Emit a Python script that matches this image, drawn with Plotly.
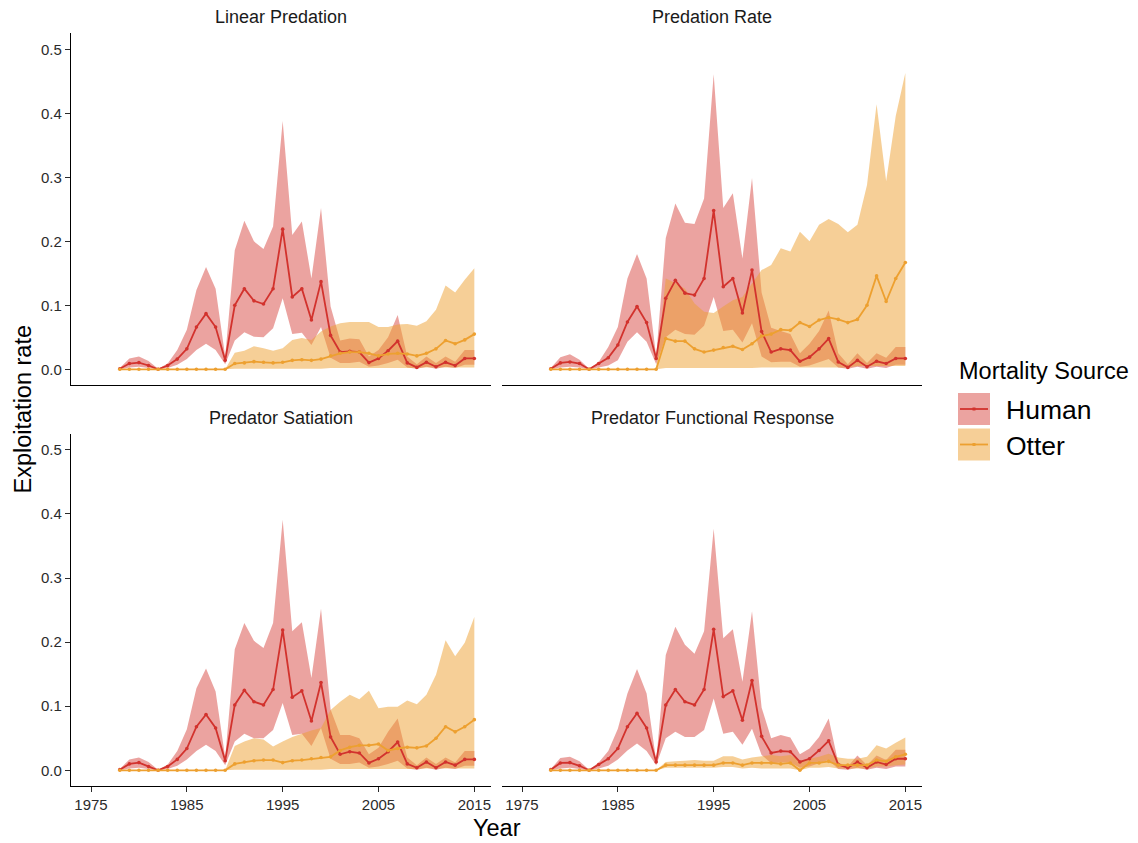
import plotly.graph_objects as go

# ---------------------------------------------------------------- data
years = list(range(1978, 2016))
panel_titles = ["Linear Predation", "Predation Rate",
                "Predator Satiation", "Predator Functional Response"]
x_ticks = [1975, 1985, 1995, 2005, 2015]
y_ticks = [0.0, 0.1, 0.2, 0.3, 0.4, 0.5]
y_tick_text = ["0.0", "0.1", "0.2", "0.3", "0.4", "0.5"]

# Linear Predation
lin_human_mid = [0.001, 0.009, 0.0105, 0.006, 0.0, 0.006, 0.016, 0.032, 0.066, 0.087, 0.066, 0.014,
                 0.100, 0.126, 0.107, 0.102, 0.126, 0.219, 0.113, 0.126, 0.077, 0.137,
                 0.053, 0.027, 0.028, 0.027, 0.0105, 0.017, 0.029, 0.044, 0.010, 0.003,
                 0.011, 0.004, 0.011, 0.006, 0.017, 0.017]
lin_human_hi = [0.002, 0.017, 0.020, 0.013, 0.001, 0.009, 0.030, 0.062, 0.124, 0.160, 0.126, 0.020,
                0.186, 0.232, 0.200, 0.188, 0.223, 0.388, 0.210, 0.231, 0.142, 0.252,
                0.098, 0.045, 0.048, 0.047, 0.020, 0.030, 0.050, 0.085, 0.020, 0.008,
                0.020, 0.010, 0.020, 0.012, 0.030, 0.030]
lin_human_lo = [0.0, 0.003, 0.004, 0.002, 0.0, 0.002, 0.007, 0.016, 0.030, 0.040, 0.030, 0.008,
                0.045, 0.058, 0.051, 0.050, 0.064, 0.111, 0.055, 0.057, 0.038, 0.066,
                0.018, 0.010, 0.010, 0.012, 0.004, 0.006, 0.010, 0.015, 0.003, 0.001,
                0.004, 0.001, 0.004, 0.002, 0.007, 0.007]
lin_otter_mid = [0.0, 0.0, 0.0, 0.0, 0.0, 0.0, 0.0, 0.0, 0.0, 0.0, 0.0, 0.0,
                 0.009, 0.010, 0.012, 0.011, 0.010, 0.011, 0.014, 0.015, 0.014, 0.016,
                 0.021, 0.025, 0.027, 0.027, 0.025, 0.021, 0.024, 0.025, 0.024, 0.021,
                 0.025, 0.032, 0.045, 0.040, 0.046, 0.055]
lin_otter_hi = [0.0, 0.0, 0.0, 0.0, 0.0, 0.0, 0.0, 0.0, 0.0, 0.0, 0.0, 0.0,
                0.026, 0.029, 0.036, 0.033, 0.029, 0.033, 0.046, 0.049, 0.046, 0.059,
                0.067, 0.072, 0.074, 0.074, 0.074, 0.066, 0.066, 0.070, 0.071, 0.068,
                0.075, 0.093, 0.131, 0.120, 0.140, 0.158]
lin_otter_lo = [0.0, 0.0, 0.0, 0.0, 0.0, 0.0, 0.0, 0.0, 0.0, 0.0, 0.0, 0.0,
                0.001, 0.001, 0.001, 0.001, 0.001, 0.001, 0.001, 0.001, 0.001, 0.001,
                0.002, 0.002, 0.002, 0.002, 0.002, 0.002, 0.002, 0.002, 0.002, 0.002,
                0.003, 0.003, 0.003, 0.003, 0.003, 0.003]

# Predation Rate
rate_human_mid = [0.001, 0.010, 0.0115, 0.009, 0.0, 0.009, 0.018, 0.038, 0.074, 0.098, 0.073, 0.017,
                  0.111, 0.139, 0.119, 0.116, 0.142, 0.248, 0.129, 0.142, 0.088, 0.155,
                  0.059, 0.027, 0.032, 0.030, 0.0125, 0.019, 0.032, 0.048, 0.0115, 0.003,
                  0.014, 0.004, 0.0125, 0.009, 0.017, 0.017]
rate_human_hi = [0.002, 0.019, 0.0235, 0.015, 0.001, 0.0115, 0.035, 0.066, 0.142, 0.180, 0.142, 0.020,
                 0.205, 0.259, 0.229, 0.227, 0.267, 0.461, 0.252, 0.275, 0.173, 0.299,
                 0.120, 0.065, 0.060, 0.055, 0.025, 0.040, 0.060, 0.092, 0.025, 0.008,
                 0.025, 0.010, 0.025, 0.018, 0.035, 0.035]
rate_human_lo = [0.0, 0.003, 0.004, 0.003, 0.0, 0.003, 0.006, 0.014, 0.043, 0.058, 0.043, 0.008,
                 0.050, 0.062, 0.055, 0.054, 0.068, 0.113, 0.060, 0.062, 0.042, 0.072,
                 0.020, 0.011, 0.012, 0.012, 0.004, 0.006, 0.011, 0.016, 0.003, 0.001,
                 0.004, 0.001, 0.004, 0.002, 0.007, 0.007]
rate_otter_mid = [0.0, 0.0, 0.0, 0.0, 0.0, 0.0, 0.0, 0.0, 0.0, 0.0, 0.0, 0.0,
                  0.048, 0.044, 0.044, 0.032, 0.027, 0.030, 0.034, 0.036, 0.031, 0.040,
                  0.052, 0.055, 0.062, 0.061, 0.073, 0.067, 0.077, 0.081, 0.078, 0.073,
                  0.078, 0.100, 0.146, 0.106, 0.142, 0.167]
rate_otter_hi = [0.0, 0.0, 0.0, 0.0, 0.0, 0.0, 0.0, 0.0, 0.0, 0.0, 0.0, 0.0,
                 0.142, 0.135, 0.126, 0.103, 0.090, 0.088, 0.098, 0.108, 0.113, 0.134,
                 0.155, 0.163, 0.189, 0.184, 0.215, 0.200, 0.226, 0.235, 0.227, 0.214,
                 0.226, 0.288, 0.414, 0.294, 0.396, 0.463]
rate_otter_lo = [0.0, 0.0, 0.0, 0.0, 0.0, 0.0, 0.0, 0.0, 0.0, 0.0, 0.0, 0.0,
                 0.002, 0.002, 0.002, 0.002, 0.002, 0.002, 0.002, 0.002, 0.002, 0.002,
                 0.003, 0.003, 0.003, 0.003, 0.003, 0.003, 0.003, 0.003, 0.003, 0.003,
                 0.005, 0.005, 0.005, 0.005, 0.005, 0.005]

# Predator Satiation
sat_human_mid = [0.001, 0.010, 0.012, 0.006, 0.0, 0.006, 0.017, 0.034, 0.068, 0.087, 0.066, 0.015,
                 0.102, 0.125, 0.107, 0.102, 0.126, 0.219, 0.114, 0.124, 0.077, 0.137,
                 0.052, 0.025, 0.029, 0.027, 0.0115, 0.018, 0.029, 0.044, 0.010, 0.004,
                 0.013, 0.004, 0.013, 0.008, 0.017, 0.017]
sat_human_hi = [0.002, 0.017, 0.020, 0.013, 0.001, 0.009, 0.030, 0.064, 0.128, 0.159, 0.123, 0.020,
                0.189, 0.230, 0.202, 0.191, 0.230, 0.391, 0.217, 0.231, 0.144, 0.252,
                0.095, 0.055, 0.055, 0.050, 0.025, 0.035, 0.060, 0.081, 0.020, 0.008,
                0.020, 0.010, 0.020, 0.012, 0.030, 0.030]
sat_human_lo = [0.0, 0.003, 0.004, 0.002, 0.0, 0.002, 0.007, 0.017, 0.030, 0.040, 0.030, 0.008,
                0.045, 0.057, 0.050, 0.050, 0.063, 0.105, 0.055, 0.057, 0.038, 0.066,
                0.018, 0.010, 0.010, 0.012, 0.004, 0.006, 0.010, 0.015, 0.003, 0.001,
                0.004, 0.001, 0.004, 0.002, 0.007, 0.007]
sat_otter_mid = [0.0, 0.0, 0.0, 0.0, 0.0, 0.0, 0.0, 0.0, 0.0, 0.0, 0.0, 0.0,
                 0.010, 0.013, 0.015, 0.016, 0.016, 0.012, 0.015, 0.016, 0.018, 0.020,
                 0.021, 0.031, 0.036, 0.039, 0.039, 0.041, 0.031, 0.034, 0.036, 0.035,
                 0.038, 0.050, 0.068, 0.060, 0.068, 0.079]
sat_otter_hi = [0.0, 0.0, 0.0, 0.0, 0.0, 0.0, 0.0, 0.0, 0.0, 0.0, 0.0, 0.0,
                0.038, 0.045, 0.050, 0.048, 0.037, 0.045, 0.052, 0.057, 0.062, 0.066,
                0.094, 0.107, 0.118, 0.111, 0.124, 0.097, 0.099, 0.099, 0.109, 0.103,
                0.118, 0.149, 0.203, 0.178, 0.199, 0.239]
sat_otter_lo = [0.0, 0.0, 0.0, 0.0, 0.0, 0.0, 0.0, 0.0, 0.0, 0.0, 0.0, 0.0,
                0.001, 0.001, 0.001, 0.001, 0.001, 0.001, 0.001, 0.001, 0.001, 0.001,
                0.002, 0.002, 0.002, 0.002, 0.002, 0.002, 0.002, 0.002, 0.002, 0.002,
                0.003, 0.003, 0.003, 0.003, 0.003, 0.003]

# Predator Functional Response
fr_human_mid = [0.001, 0.0115, 0.012, 0.007, 0.0, 0.009, 0.018, 0.034, 0.068, 0.089, 0.066, 0.013,
                0.102, 0.126, 0.107, 0.102, 0.126, 0.220, 0.115, 0.124, 0.078, 0.140,
                0.053, 0.027, 0.030, 0.029, 0.013, 0.018, 0.031, 0.046, 0.009, 0.004,
                0.013, 0.004, 0.013, 0.009, 0.018, 0.018]
fr_human_hi = [0.002, 0.019, 0.021, 0.014, 0.001, 0.012, 0.030, 0.065, 0.120, 0.158, 0.120, 0.015,
               0.180, 0.224, 0.196, 0.182, 0.217, 0.377, 0.206, 0.220, 0.138, 0.248,
               0.098, 0.050, 0.055, 0.051, 0.025, 0.034, 0.052, 0.081, 0.012, 0.006,
               0.023, 0.008, 0.023, 0.016, 0.032, 0.032]
fr_human_lo = [0.0, 0.003, 0.004, 0.002, 0.0, 0.003, 0.007, 0.017, 0.031, 0.042, 0.030, 0.008,
               0.050, 0.060, 0.052, 0.052, 0.063, 0.112, 0.057, 0.060, 0.040, 0.065,
               0.024, 0.011, 0.012, 0.012, 0.004, 0.006, 0.011, 0.016, 0.002, 0.001,
               0.004, 0.001, 0.004, 0.002, 0.006, 0.006]
fr_otter_mid = [0.0, 0.0, 0.0, 0.0, 0.0, 0.0, 0.0, 0.0, 0.0, 0.0, 0.0, 0.0,
                0.008, 0.008, 0.008, 0.008, 0.008, 0.008, 0.0115, 0.0115, 0.008, 0.0115,
                0.0115, 0.0115, 0.010, 0.0115, 0.0, 0.0115, 0.0115, 0.014, 0.008, 0.008,
                0.008, 0.008, 0.016, 0.014, 0.021, 0.025]
fr_otter_hi = [0.0, 0.0, 0.0, 0.0, 0.0, 0.0, 0.0, 0.0, 0.0, 0.0, 0.0, 0.0,
               0.013, 0.014, 0.015, 0.016, 0.015, 0.015, 0.022, 0.022, 0.017, 0.020,
               0.022, 0.024, 0.022, 0.024, 0.015, 0.018, 0.021, 0.026, 0.020, 0.018,
               0.018, 0.021, 0.039, 0.034, 0.043, 0.051]
fr_otter_lo = [0.0, 0.0, 0.0, 0.0, 0.0, 0.0, 0.0, 0.0, 0.0, 0.0, 0.0, 0.0,
               0.004, 0.004, 0.004, 0.004, 0.004, 0.004, 0.005, 0.005, 0.003, 0.004,
               0.003, 0.003, 0.003, 0.003, 0.0, 0.004, 0.004, 0.005, 0.003, 0.003,
               0.003, 0.003, 0.006, 0.006, 0.008, 0.009]

panel_data = [
    (lin_human_lo, lin_human_mid, lin_human_hi, lin_otter_lo, lin_otter_mid, lin_otter_hi),
    (rate_human_lo, rate_human_mid, rate_human_hi, rate_otter_lo, rate_otter_mid, rate_otter_hi),
    (sat_human_lo, sat_human_mid, sat_human_hi, sat_otter_lo, sat_otter_mid, sat_otter_hi),
    (fr_human_lo, fr_human_mid, fr_human_hi, fr_otter_lo, fr_otter_mid, fr_otter_hi),
]

# ---------------------------------------------------------------- style
W, H = 1138, 843
FONT = "Liberation Sans, Arial, Helvetica, sans-serif"
HUMAN = "#D2322D"
OTTER = "#EDA030"
HUMAN_FILL = "rgba(210,50,45,0.45)"
OTTER_FILL = "rgba(237,160,48,0.5)"
TEXT = "#1A1A1A"
TICK = "#2B2B2B"


def px_x(p):
    return p / W


def px_y(p):
    return 1 - p / H


# panel boxes in pixels: (left, right, top, bottom)
boxes = [(71, 491, 33, 385), (502, 922, 33, 385),
         (71, 491, 433.5, 786), (502, 922, 433.5, 786)]

fig = go.Figure()

for i, (h_lo, h_mid, h_hi, o_lo, o_mid, o_hi) in enumerate(panel_data):
    ax = "" if i == 0 else str(i + 1)
    xr, yr = "x" + ax, "y" + ax
    band_x = years + years[::-1]
    # uncertainty ribbons
    fig.add_trace(go.Scatter(x=band_x, y=h_hi + h_lo[::-1], fill="toself",
                             fillcolor=HUMAN_FILL, mode="none", hoverinfo="skip",
                             showlegend=False, xaxis=xr, yaxis=yr))
    fig.add_trace(go.Scatter(x=band_x, y=o_hi + o_lo[::-1], fill="toself",
                             fillcolor=OTTER_FILL, mode="none", hoverinfo="skip",
                             showlegend=False, xaxis=xr, yaxis=yr))
    # median lines with points
    fig.add_trace(go.Scatter(x=years, y=h_mid, mode="lines+markers",
                             line=dict(color=HUMAN, width=1.8),
                             marker=dict(color=HUMAN, size=3.6),
                             name="Human", showlegend=False, xaxis=xr, yaxis=yr))
    fig.add_trace(go.Scatter(x=years, y=o_mid, mode="lines+markers",
                             line=dict(color=OTTER, width=1.8),
                             marker=dict(color=OTTER, size=3.6),
                             name="Otter", showlegend=False, xaxis=xr, yaxis=yr))

layout_axes = {}
for i, (l, r, t, b) in enumerate(boxes):
    sfx = "" if i == 0 else str(i + 1)
    bottom_row = i >= 2
    left_col = i % 2 == 0
    layout_axes["xaxis" + sfx] = dict(
        domain=[px_x(l), px_x(r)], anchor="y" + sfx,
        range=[1972.91, 2016.74], tickvals=x_ticks,
        showgrid=False, zeroline=False,
        showline=True, linecolor="black", linewidth=1.3,
        ticks="outside" if bottom_row else "", ticklen=5, tickwidth=1.1, tickcolor=TICK,
        showticklabels=bottom_row,
        tickfont=dict(family=FONT, size=15, color=TICK),
    )
    layout_axes["yaxis" + sfx] = dict(
        domain=[px_y(b), px_y(t)], anchor="x" + sfx,
        range=[-0.0245, 0.5255], tickvals=y_ticks, ticktext=y_tick_text,
        showgrid=False, zeroline=False,
        showline=left_col, linecolor="black", linewidth=1.3,
        ticks="outside" if left_col else "", ticklen=5, tickwidth=1.1, tickcolor=TICK,
        showticklabels=left_col,
        tickfont=dict(family=FONT, size=15, color=TICK),
    )

annotations = []
for title, (l, r, t, b) in zip(panel_titles, boxes):
    annotations.append(dict(text=title, x=px_x((l + r) / 2), y=px_y(t - 16),
                            xref="paper", yref="paper", showarrow=False,
                            xanchor="center", yanchor="middle",
                            font=dict(family=FONT, size=18, color=TEXT)))

annotations.append(dict(text="Year", x=px_x(496.5), y=px_y(828), xref="paper", yref="paper",
                        showarrow=False, xanchor="center", yanchor="middle",
                        font=dict(family=FONT, size=23.5, color="black")))
annotations.append(dict(text="Exploitation rate", x=px_x(22), y=px_y(409.5),
                        xref="paper", yref="paper", showarrow=False, textangle=-90,
                        xanchor="center", yanchor="middle",
                        font=dict(family=FONT, size=23.5, color="black")))

# legend drawn as keys + labels
annotations.append(dict(text="Mortality Source", x=px_x(957), y=px_y(371),
                        xref="paper", yref="paper", showarrow=False,
                        xanchor="left", yanchor="middle",
                        font=dict(family=FONT, size=23.5, color="black")))
shapes = []
for label, line_col, fill_col, top in [("Human", HUMAN, HUMAN_FILL, 393),
                                       ("Otter", OTTER, OTTER_FILL, 428.5)]:
    shapes.append(dict(type="rect", xref="paper", yref="paper",
                       x0=px_x(958), x1=px_x(990), y0=px_y(top + 32), y1=px_y(top),
                       fillcolor=fill_col, line=dict(width=0)))
    mid = top + 16
    shapes.append(dict(type="line", xref="paper", yref="paper",
                       x0=px_x(960), x1=px_x(988), y0=px_y(mid), y1=px_y(mid),
                       line=dict(color=line_col, width=1.8)))
    shapes.append(dict(type="rect", xref="paper", yref="paper",
                       x0=px_x(972.5), x1=px_x(975.5), y0=px_y(mid + 1.5), y1=px_y(mid - 1.5),
                       fillcolor=line_col, line=dict(width=0)))
    annotations.append(dict(text=label, x=px_x(1004), y=px_y(mid + 1),
                            xref="paper", yref="paper", showarrow=False,
                            xanchor="left", yanchor="middle",
                            font=dict(family=FONT, size=26.5, color="black")))

fig.update_layout(
    width=W, height=H,
    margin=dict(l=0, r=0, t=0, b=0),
    paper_bgcolor="white", plot_bgcolor="white",
    font=dict(family=FONT),
    showlegend=False,
    annotations=annotations,
    shapes=shapes,
    **layout_axes,
)

fig.write_html("out.html")
